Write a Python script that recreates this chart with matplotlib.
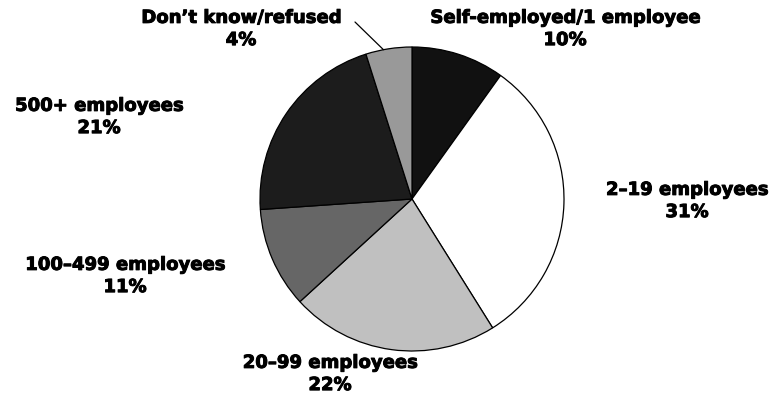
import numpy as np
import matplotlib
matplotlib.use("Agg")
import matplotlib.pyplot as plt
import matplotlib.patheffects as pe

# Dati
categories = ["Self-employed/1 employee", "2\u201319 employees", "20\u201399 employees",
              "100\u2013499 employees", "500+ employees", "Don\u2019t know/refused"]
pct_labels = [10, 31, 22, 11, 21, 4]          # percentuali stampate
shares = [9.9, 31.2, 22.1, 10.7, 21.2, 4.9]   # ampiezza spicchi
colors = ["#111111", "#ffffff", "#c0c0c0", "#666666", "#1c1c1c", "#999999"]

# posizione delle etichette (pixel, centro del blocco)
label_pos = [(565, 29), (687, 201), (330, 374), (125, 276), (99, 117), (241, 29)]

W, H = 783, 405
fig = plt.figure(figsize=(W / 100, H / 100), dpi=100, facecolor="white")

cx, cy, r = 412, 199, 152
ax = fig.add_axes([(cx - r) / W, (H - cy - r) / H, 2 * r / W, 2 * r / H])
wedges, _ = ax.pie(shares, colors=colors, startangle=90, counterclock=False,
                   wedgeprops=dict(edgecolor="black", linewidth=0.9))
ax.set_xlim(-1, 1)
ax.set_ylim(-1, 1)
ax.set_aspect("equal")
ax.axis("off")

for cat, val, (px, py) in zip(categories, pct_labels, label_pos):
    fig.text(px / W, 1 - py / H, f"{cat}\n{val}%", ha="center", va="center",
             fontsize=13, fontweight="bold", family="DejaVu Sans",
             linespacing=1.3, color="black",
             path_effects=[pe.withStroke(linewidth=0.7, foreground="black")])

# linea guida per "Don't know/refused"
w = wedges[-1]
theta = np.deg2rad((w.theta1 + w.theta2) / 2 + 2)
ax.annotate("", xy=(np.cos(theta), np.sin(theta)),
            xytext=(355 / W, 1 - 22 / H), textcoords="figure fraction",
            arrowprops=dict(arrowstyle="-", color="black", lw=0.9,
                            shrinkA=0, shrinkB=0))

plt.savefig("out.png", dpi=100, facecolor="white")
